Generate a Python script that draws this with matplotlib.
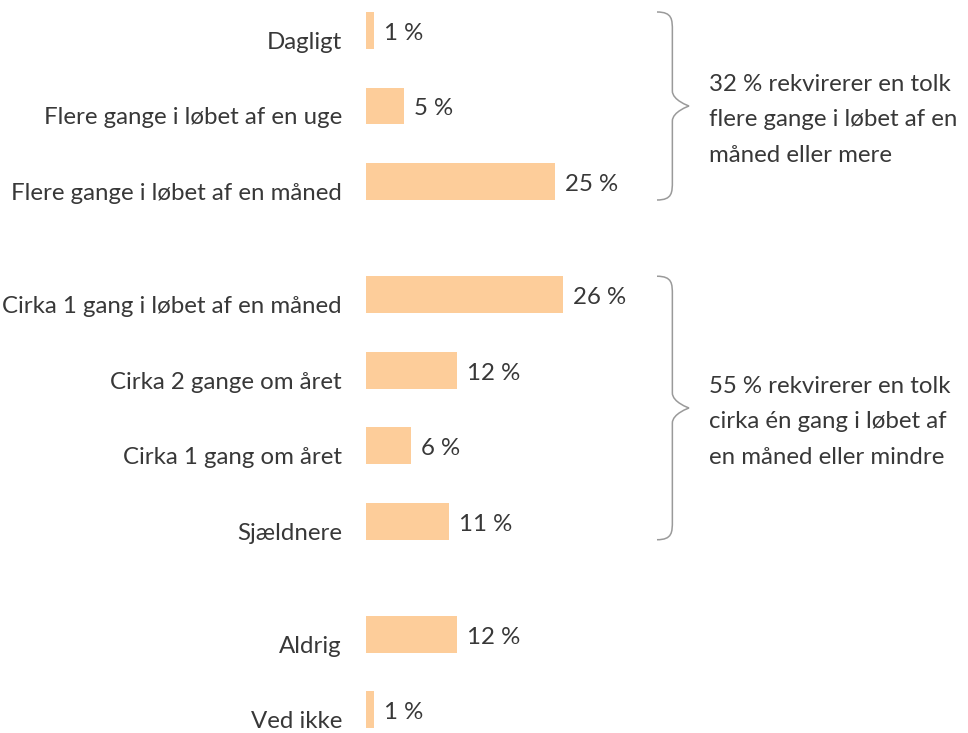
import matplotlib.pyplot as plt
from matplotlib.path import Path
from matplotlib.patches import PathPatch

# data
groups = [
    ["Dagligt", "Flere gange i løbet af en uge", "Flere gange i løbet af en måned"],
    ["Cirka 1 gang i løbet af en måned", "Cirka 2 gange om året",
     "Cirka 1 gang om året", "Sjældnere"],
    ["Aldrig", "Ved ikke"],
]
values = [1, 5, 25, 26, 12, 6, 11, 12, 1]
brace_notes = [
    "32 % rekvirerer en tolk\nflere gange i løbet af en\nmåned eller mere",
    "55 % rekvirerer en tolk\ncirka én gang i løbet af\nen måned eller mindre",
]

BAR = "#fdcd9a"
TXT = "#383838"
plt.rcParams['font.family'] = ['Lato', 'DejaVu Sans']
FS = 17.3

# y positions: one slot per row, extra half slot between groups
ypos, labels, spans = [], [], []
y = 0.0
for g in groups:
    start = y
    for lab in g:
        ypos.append(y)
        labels.append(lab)
        y += 1
    spans.append((start, y - 1))
    y += 0.5

fig = plt.figure(figsize=(9.68, 7.33), dpi=100)
px_per_pct = 7.57
ax = fig.add_axes([366 / 968, 0, 1 - 366 / 968, 1])
ax.set_xlim(0, (968 - 366) / px_per_pct)
ax.set_ylim(9.305, -0.404)
ax.axis("off")

h = 0.49
ax.barh(ypos, values, height=h, color=BAR, linewidth=0)

for yy, v, lab in zip(ypos, values, labels):
    ax.annotate(lab, (0, yy), xytext=(-24, -12), textcoords="offset pixels",
                ha="right", va="center", fontsize=FS, color=TXT,
                annotation_clip=False)
    ax.annotate(f"{v} %", (v, yy), xytext=(10, -3), textcoords="offset pixels",
                ha="left", va="center", fontsize=FS, color=TXT)


def brace(ax, y0, y1, x0, x1):
    # curly brace opening to the left, tip pointing right
    xm = x0 + (x1 - x0) * 0.48
    ym = (y0 + y1) / 2
    c = 0.25  # curvature in y-units
    verts = [
        (x0, y0), (xm, y0), (xm, y0 + c * 0.4), (xm, y0 + c),
        (xm, ym - c * 0.8),
        (xm, ym - c * 0.3), (x1, ym), (x1, ym),
        (x1, ym), (xm, ym + c * 0.3), (xm, ym + c * 0.8),
        (xm, y1 - c),
        (xm, y1 - c * 0.4), (xm, y1), (x0, y1),
    ]
    codes = [Path.MOVETO, Path.CURVE4, Path.CURVE4, Path.CURVE4,
             Path.LINETO,
             Path.CURVE4, Path.CURVE4, Path.CURVE4,
             Path.CURVE4, Path.CURVE4, Path.CURVE4,
             Path.LINETO,
             Path.CURVE4, Path.CURVE4, Path.CURVE4]
    ax.add_patch(PathPatch(Path(verts, codes), fill=False, edgecolor="#9a9a9a",
                           linewidth=1.1, clip_on=False))


bx0 = (657 - 366) / px_per_pct
bx1 = (689 - 366) / px_per_pct
for (s, e), note in zip(spans[:2], brace_notes):
    brace(ax, s - h / 2, e + h / 2, bx0, bx1)
    ax.annotate(note, (bx1, (s + e) / 2), xytext=(20, -14),
                textcoords="offset pixels", ha="left", va="center",
                fontsize=FS, color=TXT, linespacing=1.88)

fig.savefig("out.png", dpi=100)
